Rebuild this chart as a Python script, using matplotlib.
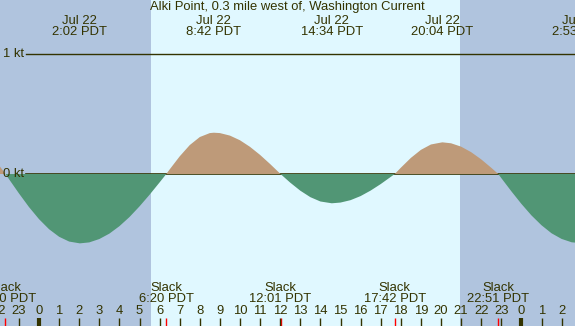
import matplotlib
matplotlib.use("Agg")
import matplotlib.pyplot as plt
from matplotlib.transforms import blended_transform_factory
import numpy as np

plt.rcParams['font.family'] = ['Liberation Sans', 'DejaVu Sans']

# ---------------- data ----------------
title = "Alki Point, 0.3 mile west of, Washington Current"

# current speed (kt), hours from Jul 22 00:00 PDT
hours = [-2.0, -1.667, -1.5, -1.0, -0.5, 0.0, 0.5, 1.0, 1.5, 2.033, 2.5, 3.0, 3.5, 4.0,
         4.5, 5.0, 5.5, 6.0, 6.333, 6.5, 7.0, 7.5, 8.0, 8.5, 8.7, 9.0, 9.5, 10.0,
         10.5, 11.0, 11.5, 12.017, 12.5, 13.0, 13.5, 14.0, 14.567, 15.0, 15.5, 16.0,
         16.5, 17.0, 17.5, 17.7, 18.0, 18.5, 19.0, 19.5, 20.067, 20.5, 21.0, 21.5,
         22.0, 22.5, 22.85, 23.0, 23.5, 24.0, 24.5, 25.0, 25.5, 26.0, 26.5, 26.883, 27.0]
speed = [0.075, 0.0, -0.041, -0.161, -0.275, -0.376, -0.460, -0.523, -0.563, -0.578,
         -0.570, -0.542, -0.497, -0.435, -0.359, -0.270, -0.173, -0.070, 0.0, 0.038,
         0.147, 0.241, 0.308, 0.341, 0.344, 0.341, 0.320, 0.281, 0.226, 0.159, 0.083,
         0.0, -0.072, -0.139, -0.193, -0.229, -0.244, -0.238, -0.218, -0.184, -0.138,
         -0.084, -0.024, 0.0, 0.052, 0.134, 0.201, 0.246, 0.264, 0.256, 0.228, 0.182,
         0.122, 0.052, 0.0, -0.034, -0.144, -0.249, -0.345, -0.427, -0.494, -0.541,
         -0.569, -0.575, -0.574]

# extrema (top labels)
max_hours = [2.033, 8.7, 14.567, 20.067, 26.883]
max_labels = ["Jul 22\n2:02 PDT", "Jul 22\n8:42 PDT", "Jul 22\n14:34 PDT",
              "Jul 22\n20:04 PDT", "Jul 23\n2:53 PDT"]

# slack (bottom labels)
slack_hours = [-1.667, 6.333, 12.017, 17.7, 22.85]
slack_labels = ["Slack\n22:20 PDT", "Slack\n6:20 PDT", "Slack\n12:01 PDT",
                "Slack\n17:42 PDT", "Slack\n22:51 PDT"]

sunrise = 5.57
sunset = 20.95

hour_ticks = list(range(-2, 27))
hour_labels = [str(h % 24) for h in hour_ticks]
midnights = [0, 24]

# ---------------- style ----------------
W, H = 575, 326
night_c = '#B0C4DE'
day_c = '#E0F8FF'
flood_c = '#BE9A79'
ebb_c = '#519675'
ink = '#333300'
fs = 9.4

x0_px, px_per_h = 39.0, 20.1
zero_px, px_per_kt = 174.0, 120.0

fig = plt.figure(figsize=(W / 100, H / 100), dpi=100)
ax = fig.add_axes([0, 0, 1, 1])
xmin = (0 - x0_px) / px_per_h
xmax = (W - x0_px) / px_per_h
ax.set_xlim(xmin, xmax)
ax.set_ylim((zero_px - H) / px_per_kt, zero_px / px_per_kt)
ax.axis('off')

def yfrac(ypx):
    return 1 - ypx / H

tr = blended_transform_factory(ax.transData, ax.transAxes)

# background
ax.axvspan(xmin, sunrise, color=night_c, zorder=0, lw=0)
ax.axvspan(sunrise, sunset, color=day_c, zorder=0, lw=0)
ax.axvspan(sunset, xmax, color=night_c, zorder=0, lw=0)

# lines
ax.axhline(1.0, xmin=26 / W, xmax=1, color=ink, lw=1.0, zorder=1)
ax.axhline(0.0, xmin=26 / W, xmax=1, color=ink, lw=1.2, zorder=1)

h = np.array(hours)
s = np.array(speed)
ax.fill_between(h, 0, s, where=s >= 0, interpolate=True, color=flood_c, lw=0, zorder=2)
ax.fill_between(h, 0, s, where=s <= 0, interpolate=True, color=ebb_c, lw=0, zorder=2)

# left labels
ax.text(3 / W, yfrac(54), "1 kt", transform=ax.transAxes, ha='left', va='center',
        fontsize=fs, color=ink, zorder=5)
ax.text(3 / W, yfrac(174), "0 kt", transform=ax.transAxes, ha='left', va='center',
        fontsize=fs, color=ink, zorder=5)

# title
ax.text(0.5, yfrac(7), title, transform=ax.transAxes, ha='center', va='center',
        fontsize=fs, color=ink, zorder=5)

# top extrema labels
for mh, ml in zip(max_hours, max_labels):
    ax.text(mh, yfrac(26.5), ml, transform=tr, ha='center', va='center',
            fontsize=fs, color=ink, linespacing=0.9, zorder=5)

# slack labels
for sh, sl in zip(slack_hours, slack_labels):
    ax.text(sh, yfrac(293.5), sl, transform=tr, ha='center', va='center',
            fontsize=fs, color=ink, linespacing=0.9, zorder=5)
    ax.plot([sh, sh], [yfrac(318), 0], transform=tr, color='#FF0000', lw=1.0,
            zorder=4, solid_capstyle='butt')

# hour ticks
for ht, hl in zip(hour_ticks, hour_labels):
    ax.text(ht, yfrac(311.5), hl, transform=tr, ha='center', va='center',
            fontsize=fs, color=ink, zorder=5)
    lw = 3.0 if ht in midnights else 1.0
    ax.plot([ht, ht], [yfrac(318), 0], transform=tr, color=ink, lw=lw,
            zorder=4, solid_capstyle='butt')

fig.savefig('out.png', dpi=100)
